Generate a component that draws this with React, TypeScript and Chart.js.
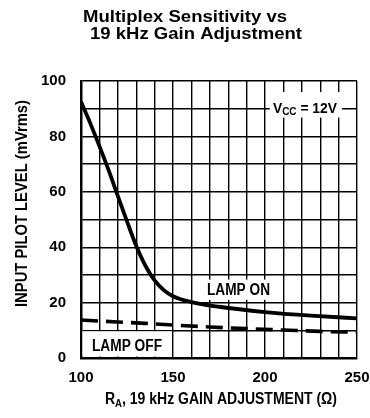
import React, { useEffect, useRef } from 'react';
import { Chart, registerables } from 'chart.js';

Chart.register(...registerables);

// ---- data ----
const titleLines = ['Multiplex Sensitivity vs', '19 kHz Gain Adjustment'];
const yAxisTitle = 'INPUT PILOT LEVEL (mVrms)';
const xAxisTitleMain = 'R';
const xAxisTitleSub = 'A';
const xAxisTitleRest = ', 19 kHz GAIN ADJUSTMENT (\u03A9)';

const lampOnR = [100, 105, 110, 115, 120, 125, 130, 135, 140, 145, 150, 160, 175, 200, 225, 250];
const lampOnMv = [92.5, 84.8, 76.5, 67.8, 58.5, 49.3, 40.5, 33.3, 28.0, 24.5, 22.3, 20.2, 18.5, 16.6, 15.3, 14.3];

const lampOffR = [100, 120, 135, 150, 170, 190, 210, 230, 250];
const lampOffMv = [13.7, 13.0, 12.5, 11.9, 11.2, 10.6, 10.1, 9.6, 9.3];

const xTickLabels = [100, 150, 200, 250];
const yTickLabels = [0, 20, 40, 60, 80, 100];

const lampOnLabel = 'LAMP ON';
const lampOffLabel = 'LAMP OFF';
const vccMain = 'V';
const vccSub = 'CC';
const vccRest = ' = 12V';

const FONT = "'Liberation Sans', Arial, Helvetica, sans-serif";

type Run = { t: string; size: number; dy: number };

function drawRuns(ctx: CanvasRenderingContext2D, runs: Run[], cx: number, baseline: number, targetW: number) {
  let total = 0;
  for (const r of runs) {
    ctx.font = `bold ${r.size}px ${FONT}`;
    total += ctx.measureText(r.t).width;
  }
  const s = targetW / total;
  ctx.save();
  ctx.translate(cx - targetW / 2, baseline);
  ctx.scale(s, 1);
  ctx.textBaseline = 'alphabetic';
  ctx.textAlign = 'left';
  let xx = 0;
  for (const r of runs) {
    ctx.font = `bold ${r.size}px ${FONT}`;
    ctx.fillText(r.t, xx, r.dy);
    xx += ctx.measureText(r.t).width;
  }
  ctx.restore();
}

const annotations = {
  id: 'annotations',
  beforeDatasetsDraw(chart: any) {
    const { ctx, scales } = chart;
    const x = scales.x;
    const y = scales.y;
    ctx.save();
    ctx.fillStyle = '#fff';
    // LAMP OFF box
    let l = x.getPixelForValue(100) + 1.5;
    let r = x.getPixelForValue(150) - 1;
    let t = y.getPixelForValue(10) + 1;
    let b = y.getPixelForValue(0) - 1.5;
    ctx.fillRect(l, t, r - l, b - t);
    // LAMP ON box
    l = x.getPixelForValue(166.3);
    r = x.getPixelForValue(204.3);
    t = y.getPixelForValue(28.3);
    b = y.getPixelForValue(21);
    ctx.fillRect(l, t, r - l, b - t);
    // VCC box
    l = x.getPixelForValue(202.6);
    r = x.getPixelForValue(241.8);
    t = y.getPixelForValue(96);
    b = y.getPixelForValue(86.8);
    ctx.fillRect(l, t, r - l, b - t);

    ctx.fillStyle = '#000';
    drawRuns(ctx, [{ t: lampOffLabel, size: 16, dy: 0 }], x.getPixelForValue(125), y.getPixelForValue(2.5), 70);
    drawRuns(ctx, [{ t: lampOnLabel, size: 16, dy: 0 }], x.getPixelForValue(185.6), y.getPixelForValue(22.6), 63);
    const vl = x.getPixelForValue(204.3);
    drawRuns(
      ctx,
      [
        { t: vccMain, size: 14.5, dy: 0 },
        { t: vccSub, size: 10.5, dy: 2.5 },
        { t: vccRest, size: 14.5, dy: 0 },
      ],
      vl + 32,
      y.getPixelForValue(88.6),
      64
    );
    ctx.restore();
  },
  afterDraw(chart: any) {
    const { ctx, chartArea } = chart;
    ctx.save();
    ctx.fillStyle = '#000';
    // titles
    drawRuns(ctx, [{ t: titleLines[0], size: 16.5, dy: 0 }], 185, 21.5, 204);
    drawRuns(ctx, [{ t: titleLines[1], size: 16.5, dy: 0 }], 196, 39, 212);
    // x axis title
    const xc = (chartArea.left + chartArea.right) / 2 + 2;
    drawRuns(
      ctx,
      [
        { t: xAxisTitleMain, size: 16, dy: 0 },
        { t: xAxisTitleSub, size: 11, dy: 3 },
        { t: xAxisTitleRest, size: 16, dy: 0 },
      ],
      xc,
      404,
      232
    );
    // y axis title
    ctx.save();
    ctx.translate(26.5, 203.5);
    ctx.rotate(-Math.PI / 2);
    drawRuns(ctx, [{ t: yAxisTitle, size: 16.5, dy: 0 }], 0, 0, 207);
    ctx.restore();
    ctx.restore();
  },
};

export default function App() {
  const ref = useRef<HTMLCanvasElement | null>(null);
  useEffect(() => {
    document.body.style.margin = '0';
    const canvas = ref.current;
    if (!canvas) return;
    const chart = new Chart(canvas, {
      type: 'line',
      data: {
        datasets: [
          {
            label: 'LAMP ON',
            data: lampOnR.map((r, i) => ({ x: r, y: lampOnMv[i] })),
            borderColor: '#000',
            borderWidth: 3.8,
            pointRadius: 0,
            fill: false,
            cubicInterpolationMode: 'monotone',
          },
          {
            label: 'LAMP OFF',
            data: lampOffR.map((r, i) => ({ x: r, y: lampOffMv[i] })),
            borderColor: '#000',
            borderWidth: 3.6,
            borderDash: [17, 8],
            pointRadius: 0,
            fill: false,
            cubicInterpolationMode: 'monotone',
          },
        ],
      },
      options: {
        responsive: false,
        animation: false,
        devicePixelRatio: 1,
        layout: { padding: { top: 81, right: 13, bottom: 0, left: 0 } },
        plugins: {
          legend: { display: false },
          title: { display: false },
          tooltip: { enabled: false },
        },
        scales: {
          x: {
            type: 'linear',
            min: 100,
            max: 250,
            afterFit: (s: any) => {
              s.height = 60;
              s.paddingLeft = 0;
              s.paddingRight = 0;
            },
            ticks: {
              stepSize: 10,
              autoSkip: false,
              maxRotation: 0,
              padding: 11,
              color: '#000',
              font: { family: FONT, size: 15, weight: 'bold' },
              callback: (v: any) => (xTickLabels.includes(Number(v)) ? String(v) : ''),
            },
            grid: { color: '#000', lineWidth: 1.4, drawTicks: false },
            border: { color: '#000', width: 2.5 },
          },
          y: {
            type: 'linear',
            min: 0,
            max: 100,
            afterFit: (s: any) => {
              s.width = 81;
              s.paddingTop = 0;
              s.paddingBottom = 0;
            },
            ticks: {
              stepSize: 10,
              autoSkip: false,
              padding: 15,
              color: '#000',
              font: { family: FONT, size: 15, weight: 'bold' },
              callback: (v: any) => (yTickLabels.includes(Number(v)) ? String(v) : ''),
            },
            grid: { color: '#000', lineWidth: 1.4, drawTicks: false },
            border: { color: '#000', width: 2.5 },
          },
        },
      },
      plugins: [annotations],
    } as any);
    return () => chart.destroy();
  }, []);
  return (
    <div style={{ width: 370, height: 418, background: '#fff' }}>
      <canvas ref={ref} width={370} height={418} style={{ display: 'block' }} />
    </div>
  );
}
